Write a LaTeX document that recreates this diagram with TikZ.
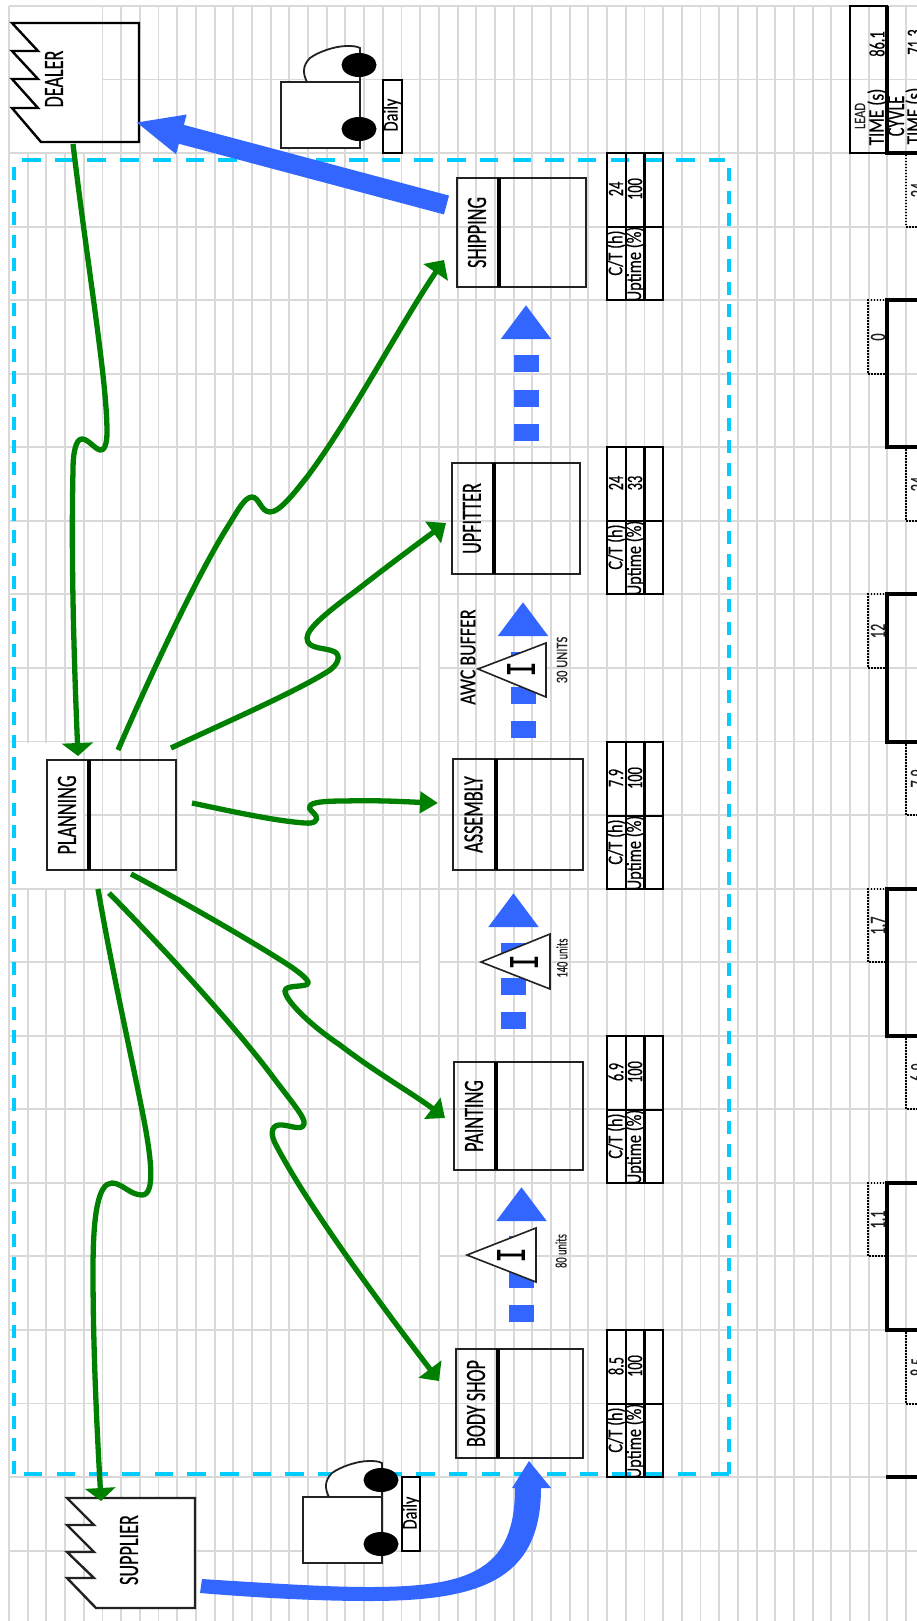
\documentclass[tikz,border=0pt]{standalone}
\usepackage{fontspec}
\usetikzlibrary{arrows.meta}
\newfontfamily\nrw[FakeStretch=0.65,FakeBold=0.4]{Carlito}
\newfontfamily\nrwb[FakeStretch=0.78,FakeBold=0.4]{Carlito}
\newfontfamily\monoI[FakeStretch=0.6,FakeBold=0.5]{Liberation Mono}
\newcommand{\fsz}[1]{\fontsize{#1}{#1}\selectfont}
\definecolor{gridc}{HTML}{D9D9D9}
\definecolor{cyanc}{HTML}{00CCFF}
\definecolor{bluec}{HTML}{3366FF}
\definecolor{greenc}{HTML}{008000}
\definecolor{inkc}{HTML}{222222}
\tikzset{
  gridline/.style={gridc,line width=1.9pt},
  cover/.style={fill=white,draw=none},
  lbl/.style={rotate=90,inner sep=0pt,outer sep=0pt,text=black,font=\nrw\fsz{28}},
  tlbl/.style={rotate=90,inner sep=0pt,outer sep=0pt,text=black,font=\nrw\fsz{22}},
  tlblw/.style={rotate=90,inner sep=0pt,outer sep=0pt,text=black,font=\nrwb\fsz{21}},
  small/.style={rotate=90,inner sep=0pt,outer sep=0pt,text=inkc,font=\nrwb\fsz{16}},
  smalln/.style={rotate=90,inner sep=0pt,outer sep=0pt,text=inkc,font=\nrw\fsz{16}},
  cell/.style={draw=black,line width=2.3pt},
  procbox/.style={draw=inkc,line width=2.5pt,inner sep=0pt},
  divider/.style={draw=black,line width=4.6pt},
  thick box/.style={draw=black,line width=4.8pt},
  dotbox/.style={draw=black,line width=1.3pt,dash pattern=on 1.5pt off 1.5pt},
  dashh/.style={cyanc,line width=3.2pt,dash pattern=on 18.5pt off 14.2pt},
  dashv/.style={cyanc,line width=4.6pt,dash pattern=on 13pt off 9.7pt},
  grn/.style n args={2}{draw=greenc,line width=5.3pt,-{Triangle[length=#1,width=#2,fill=greenc]}},
  pushflow/.style={draw=bluec,line width=25pt,dash pattern=on 17pt off 17.3pt,-{Triangle[length=34pt,width=48pt,fill=bluec]}},
  invt/.style={fill=white,draw=inkc,line width=1.6pt},
  invI/.style={rotate=90,inner sep=0pt,outer sep=0pt,text=black,font=\monoI\fsz{42}},
}
\newcommand{\procbox}[7]{% name, x1, x2, y1, y2, divider x, label
  \node[procbox,minimum width=#3pt-#2pt,minimum height=#5pt-#4pt] (#1) at ({(#2+#3)/2},{(#4+#5)/2}) {};
  \draw[divider] (#6,#4) -- (#6,#5);
  \node[lbl] (#1lab) at ({(#2+#6)/2-1},{(#4+#5)/2}) {#7};
}
\newcommand{\vsmtable}[4]{% name, top y, C/T value, uptime value
  \begin{scope}[shift={(0,#2)}]
    \draw[cell] (607,0) rectangle (663,147);
    \draw[cell] (626,0) -- (626,147) (644.5,0) -- (644.5,147) (607,73.7) -- (663,73.7);
    \node[tlbl] (#1ct) at (616,36) {#3};
    \node[tlbl] (#1up) at (635,36) {#4};
    \node[tlblw] (#1cth) at (616,100) {C/T (h)};
    \node[tlblw] (#1upt) at (635,111) {Uptime (\%)};
  \end{scope}
}
\newcommand{\truck}[3]{% name, dx, dy
  \begin{scope}[shift={(#2,#3)}]
    \filldraw[fill=white,draw=inkc,line width=1.8pt] (307,82) .. controls (303,74) and (302,66) .. (310,58) .. controls (318,52) and (335,46) .. (347,46) .. controls (352,46) and (356,46) .. (360,48) -- (360,82);
    \node[draw=inkc,fill=white,line width=1.9pt,minimum width=79pt,minimum height=66pt,inner sep=0pt] (#1body) at (320.5,115) {};
    \fill[black] (359,65) ellipse [x radius=17.5pt,y radius=12pt];
    \fill[black] (359,129) ellipse [x radius=17.5pt,y radius=12pt];
  \end{scope}
}
\begin{document}
\begin{tikzpicture}[x=1pt,y=-1pt]
\clip (0,0) rectangle (917,1621);
\fill[white] (0,0) rectangle (917,1621);
% grid
\foreach \k in {0,...,48}{\draw[gridline] ({9+18.69*\k},6) -- ({9+18.69*\k},1621);}
\foreach \k in {0,...,21}{\draw[gridline] (9,{6+73.55*\k}) -- (917,{6+73.55*\k});}
% merged, unruled cells
\fill[cover] (10,7) rectangle (102,152);
\fill[cover] (10,743) rectangle (83,888);
\fill[cover] (421,666) rectangle (438,670);
\fill[cover] (421,960) rectangle (438,964);
\fill[cover] (421,1254) rectangle (438,1258);
% boundary of the plant
\draw[dashh] (22,160) -- (725,160);
\draw[dashv] (729,168) -- (729,1474);
\draw[dashh] (729,1474) -- (24,1474);
\draw[dashv] (14,1474) -- (14,165);
% data boxes
\vsmtable{ship}{153}{24}{100}
\vsmtable{upf}{447}{24}{33}
\vsmtable{asm}{742}{7.9}{100}
\vsmtable{pnt}{1036}{6.9}{100}
\vsmtable{bdy}{1330}{8.5}{100}
% processes
\procbox{shipping}{457}{586}{178}{287}{499}{SHIPPING}
\procbox{upfitter}{452}{580}{463}{574}{494}{UPFITTER}
\procbox{assembly}{453}{583}{759}{870}{496}{ASSEMBLY}
\procbox{painting}{454}{583}{1062}{1170}{496}{PAINTING}
\procbox{bodyshop}{456}{583}{1349}{1458}{498}{BODY SHOP}
\procbox{planning}{47}{176}{760}{870}{89}{PLANNING}
% dealer and supplier
\draw[draw=black,line width=2.4pt,line join=miter] (12,23) -- (38,51) -- (12,51) -- (38,79) -- (12,79) -- (38,108) -- (12,108) -- (41,142) -- (139,142) -- (139,23) -- cycle;
\node[lbl] (dealer) at (54,79) {DEALER};
\filldraw[fill=white,draw=inkc,line width=2.4pt,line join=miter] (67,1498) -- (94,1525) -- (67,1525) -- (94,1552) -- (67,1552) -- (94,1578) -- (67,1578) -- (96,1608) -- (195,1608) -- (195,1498) -- cycle;
\node[lbl] (supplier) at (129,1550) {SUPPLIER};
% trucks
\truck{trucka}{0}{0}
\node[draw=black,fill=white,line width=2pt,minimum width=19pt,minimum height=73pt,inner sep=0pt] (dailya) at (392.5,116.5) {};
\node[tlblw] (dailyatxt) at (392,115) {Daily};
\truck{truckb}{22}{1415}
\node[draw=black,fill=white,line width=2pt,minimum width=18pt,minimum height=74pt,inner sep=0pt] (dailyb) at (411,1514) {};
\node[tlblw] (dailybtxt) at (411,1513) {Daily};
% push arrows
\coordinate (ps1) at (526,441); \coordinate (pe1) at (526,305);
\draw[pushflow] (ps1) -- (pe1);
\coordinate (ps2) at (523,738); \coordinate (pe2) at (523,602);
\draw[pushflow] (ps2) -- (pe2);
\coordinate (ps3) at (513.5,1029); \coordinate (pe3) at (513.5,893);
\draw[pushflow] (ps3) -- (pe3);
\coordinate (ps4) at (521.5,1322); \coordinate (pe4) at (521.5,1187);
\draw[pushflow] (ps4) -- (pe4);
% inventories
\filldraw[invt] (478,669) -- (546,643) -- (546,697) -- cycle;
\node[invI] (inva) at (521,669) {I};
\node[small] (inva30) at (562,660) {30 UNITS};
\node[rotate=90,inner sep=0pt,font=\nrwb\fsz{23}] (awc) at (468,657) {AWC BUFFER};
\filldraw[invt] (481,962) -- (550,934) -- (550,989) -- cycle;
\node[invI] (invb) at (524,962) {I};
\node[smalln] (invb140) at (562,958) {140 units};
\filldraw[invt] (467,1255) -- (536,1228) -- (536,1282) -- cycle;
\node[invI] (invc) at (511,1255) {I};
\node[smalln] (invc80) at (561,1251) {80 units};
% information flows
\coordinate (g1a) at (73,144); \coordinate (g1b) at (78,756);
\draw[grn={13pt}{31pt}] (g1a) .. controls (88,270) and (107,380) .. (107,432) .. controls (107,445) and (104,451) .. (100,450) .. controls (95,449) and (88,439) .. (82,439) .. controls (76,439) and (73,452) .. (73,470) .. controls (71,560) and (74,660) .. (g1b);
\coordinate (g2a) at (118,750); \coordinate (g2b) at (444,260);
\draw[grn={15pt}{29pt}] (g2a) .. controls (155,665) and (200,570) .. (230,523) .. controls (238,510) and (245,497) .. (252,497) .. controls (259,497) and (261,512) .. (270,512) .. controls (280,512) and (295,492) .. (307,477) .. controls (350,420) and (400,325) .. (g2b);
\coordinate (g3a) at (171,748); \coordinate (g3b) at (446,523);
\draw[grn={16pt}{26pt}] (g3a) .. controls (220,725) and (300,690) .. (330,670) .. controls (338,664) and (341,656) .. (335,652) .. controls (326,647) and (307,650) .. (307,638) .. controls (307,628) and (330,610) .. (357,590) .. controls (385,568) and (420,542) .. (g3b);
\coordinate (g4a) at (192,803); \coordinate (g4b) at (438,803);
\draw[grn={18pt}{21pt}] (g4a) .. controls (230,811) and (275,821) .. (305,823) .. controls (315,824) and (318,820) .. (316,816) .. controls (313,811) and (308,810) .. (310,806) .. controls (312,802) and (325,801) .. (345,801) .. controls (380,800) and (410,802) .. (g4b);
\coordinate (g5a) at (131,874); \coordinate (g5b) at (445,1118);
\draw[grn={16pt}{26pt}] (g5a) .. controls (180,900) and (250,940) .. (290,966) .. controls (300,973) and (309,980) .. (308,983) .. controls (307,988) and (285,984) .. (285,991) .. controls (285,1000) and (310,1025) .. (340,1045) .. controls (375,1072) and (415,1095) .. (g5b);
\coordinate (g6a) at (109,893); \coordinate (g6b) at (439,1381);
\draw[grn={15pt}{28pt}] (g6a) .. controls (160,945) and (230,1020) .. (273,1077) .. controls (290,1100) and (306,1118) .. (304,1124) .. controls (302,1132) and (288,1124) .. (279,1125) .. controls (270,1126) and (271,1136) .. (276,1145) .. controls (310,1210) and (385,1310) .. (g6b);
\coordinate (g7a) at (98,889); \coordinate (g7b) at (101,1501);
\draw[grn={13pt}{30pt}] (g7a) .. controls (112,970) and (130,1050) .. (142,1110) .. controls (150,1150) and (157,1195) .. (142,1195) .. controls (130,1195) and (122,1183) .. (112,1183) .. controls (98,1183) and (93,1215) .. (93,1270) .. controls (93,1350) and (97,1430) .. (g7b);
% material flows
\coordinate (ba) at (446.5,205); \coordinate (bb) at (135,122);
\draw[draw=bluec,line width=19.5pt,-{Triangle[length=48pt,width=37pt,fill=bluec]}] (ba) -- (bb);
\fill[bluec] (202,1579) .. controls (280,1584) and (330,1587) .. (369,1587) .. controls (470,1587) and (515,1570) .. (515,1488) -- (512,1488) -- (529,1461) -- (551,1488) -- (541,1488) .. controls (541,1580) and (480,1601) .. (369,1601) .. controls (320,1601) and (260,1598) .. (200,1593) -- cycle;
% timeline
\draw[cell] (850,6) rectangle (887,153);
\node[small] (leadw) at (860,116) {LEAD};
\node[tlblw,font=\nrwb\fsz{22}] (leadt) at (877,117) {TIME (s)};
\node[tlbl] (leadv) at (877,44) {86.1};
\draw[thick box] (887,6) -- (887,153) -- (925,153);
\node[lbl,font=\nrw\fsz{25}] (cycw) at (896,116) {CYVLE};
\node[tlblw,font=\nrwb\fsz{22}] (cyct) at (915,116) {TIME (s)};
\node[tlbl] (cycv) at (915,42) {71.3};
\foreach \yt/\yb in {300/447,594/742,889/1036,1183/1330}{\draw[thick box] (925,\yt) -- (887,\yt) -- (887,\yb) -- (925,\yb);}
\draw[draw=black,line width=3.8pt] (886,1477) -- (925,1477);
% upper dotted boxes
\foreach \nm/\yt/\yb/\vv in {za/300/374/0,zb/594/668/12,zc/889/962/1.7,zd/1183/1256/1.1}{
  \draw[dotbox] (887,\yt) -- (868,\yt) -- (868,\yb) -- (887,\yb);
  \node[tlbl,text=inkc] (\nm) at (878,{(\yt+\yb)/2}) {\vv};
}
% lower dotted boxes
\foreach \nm/\yt/\yb/\vv in {la/153/227/24,lb/447/521/24,lc/742/815/7.9,ld/1036/1109/6.9,le/1330/1404/8.5}{
  \draw[dotbox] (925,\yt) -- (906,\yt) -- (906,\yb) -- (925,\yb);
  \node[tlbl,text=inkc] (\nm) at (918,{(\yt+\yb)/2}) {\vv};
}
\end{tikzpicture}
\end{document}
